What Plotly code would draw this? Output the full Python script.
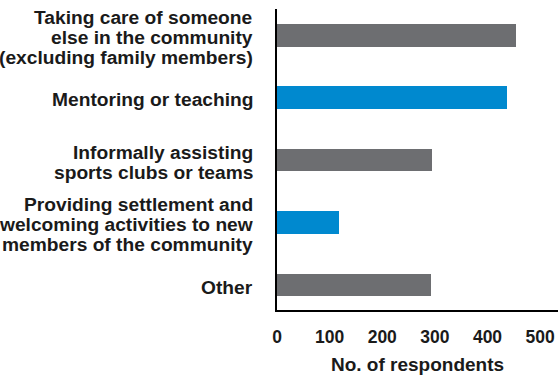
import plotly.graph_objects as go

# Survey: forms of informal volunteering
categories = [
    "Taking care of someone<br>else in the community<br>(excluding family members)",
    "Mentoring or teaching",
    "Informally assisting<br>sports clubs or teams",
    "Providing settlement and<br>welcoming activities to new<br>members of the community",
    "Other",
]
respondents = [454, 437, 295, 118, 293]
bar_colors = ["#6d6e71", "#0089cf", "#6d6e71", "#0089cf", "#6d6e71"]
x_ticks = [0, 100, 200, 300, 400, 500]

TEXT = "#1a1a1a"
FONT = "Liberation Sans"

fig = go.Figure(
    go.Bar(
        x=respondents,
        y=categories,
        orientation="h",
        marker=dict(color=bar_colors, line=dict(width=0)),
        width=0.363,
        hoverinfo="x+y",
    )
)

# Category labels: one annotation per line for tight leading
line_gap = 20
for cat in categories:
    lines = cat.split("<br>")
    n = len(lines)
    for i, ln in enumerate(lines):
        fig.add_annotation(
            x=0, xref="paper", xanchor="right",
            y=cat, yref="y", yanchor="middle",
            xshift=-22,
            yshift=((n - 1) / 2 - i) * line_gap - 2,
            text=ln, showarrow=False,
            font=dict(family=FONT, size=19.2, color=TEXT, weight="bold"),
        )

fig.update_layout(
    width=558, height=376,
    margin=dict(l=277, r=0, t=9, b=66),
    paper_bgcolor="white", plot_bgcolor="white",
    showlegend=False,
    bargap=0,
)
fig.update_xaxes(
    range=[0, 534],
    tickvals=x_ticks,
    ticktext=[str(v) for v in x_ticks],
    showgrid=False, zeroline=False,
    showline=True, linecolor="black", linewidth=2,
    ticks="", ticklabelstandoff=10,
    tickfont=dict(family=FONT, size=17.5, color=TEXT, weight="bold"),
    title=dict(text="No. of respondents", standoff=12,
               font=dict(family=FONT, size=19, color=TEXT, weight="bold")),
    fixedrange=True,
)
fig.update_yaxes(
    type="category",
    range=[4.4, -0.42],
    showticklabels=False,
    showgrid=False, zeroline=False,
    showline=True, linecolor="black", linewidth=2,
    ticks="",
    fixedrange=True,
)

fig.write_html("out.html")
